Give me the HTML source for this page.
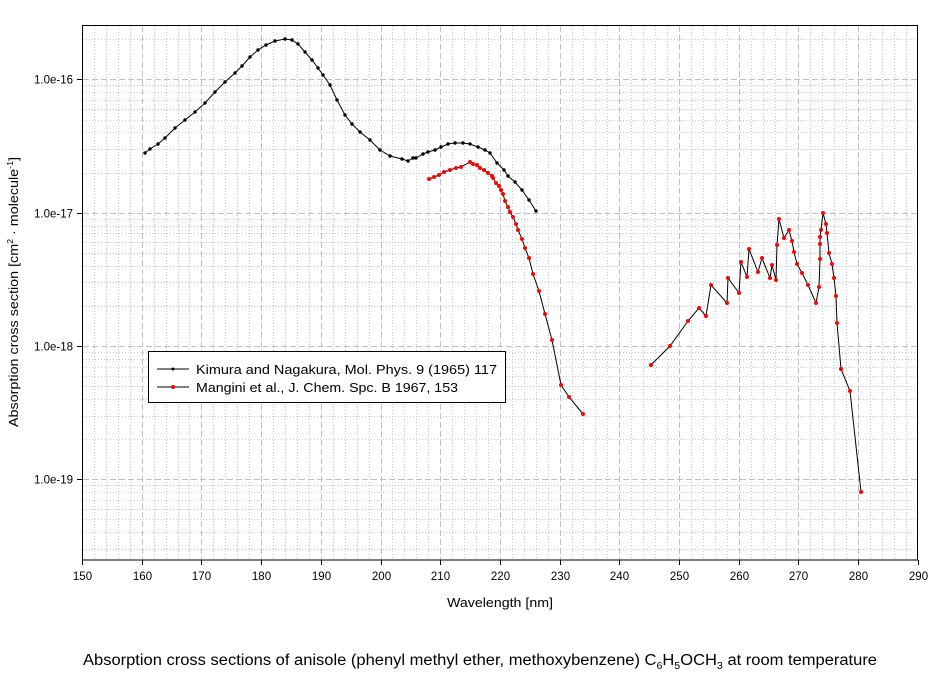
<!DOCTYPE html>
<html><head><meta charset="utf-8"><style>
body{margin:0;background:#fff;}
svg{display:block;font-family:"Liberation Sans",sans-serif;}
</style></head><body>
<svg id="s" width="942" height="676" xmlns="http://www.w3.org/2000/svg">
<rect width="942" height="676" fill="#fff"/>
<g id="grid"></g>
<rect x="82.5" y="25.5" width="835" height="534.5" fill="none" stroke="#000" stroke-width="1"/>
<g id="ticks" stroke="#000"></g>
<g id="labels" font-size="11.5" fill="#000"></g>
<polyline fill="none" stroke="#000" stroke-width="1" points="145,153 150,149 158,144 165,138 175,128 185,120 195,112 205,103 215,92 225,82 235,73 242,66 250,57 258,50 266,45 275,41 285,39 292,40 298,44 305,52 312,60 318,68 323,75 330,85 337,100 345,115 352,124 360,132 370,140 380,150 390,156 402,159 408,161 413,158 416,158 423,154 428,152 435,150 441,147 448,144 455,143 463,143 470,144 478,147 485,150 490,153 497,163 504,170 508,176 515,182 522,190 529,200 536,211"/>
<g id="bdots" fill="#000"></g>
<polyline id="r1" fill="none" stroke="#000" stroke-width="1" points="429,179 434,177 439,175 444,172 450,170 456,168 461,167 470,162 473,164 477,165 480,168 484,170 488,173 492,176 493,178 496,183 499,186 501,190 503,194 505,201 508,207 510,212 513,217 516,224 518,230 522,239 525,248 529,258 533,274 539,291 545,314 552,340 561,385 569,397 583,414"/>
<polyline id="r2" fill="none" stroke="#000" stroke-width="1" points="651,365 670,346 688,321 699,308 706,316 711,285 727,303 728,278 739,293 741,262 747,277 749,249 758,272 762,258 770,278 772,265 776,280 777,245 779,219 784,238 789,230 792,241 794,252 797,264 802,273 808,285 816,303 819,287 820,259 820,244 820,237 821,230 823,213 826,224 827,233 829,253 832,264 834,278 836,296 837,323 841,369 850,391 861,492"/>
<g id="rdots" fill="#f00"></g>
<rect x="148.5" y="351.5" width="357" height="51" fill="#fff" stroke="#000"/>
<line x1="157" y1="369" x2="189" y2="369" stroke="#000"/><circle cx="173" cy="369" r="1.5" fill="#000"/>
<line x1="157" y1="387" x2="189" y2="387" stroke="#000"/><circle cx="173" cy="387" r="2" fill="#f00"/>
<text x="196" y="374" font-size="13" textLength="301" lengthAdjust="spacingAndGlyphs">Kimura and Nagakura,  Mol. Phys. 9 (1965) 117</text>
<text x="196" y="392" font-size="13" textLength="262" lengthAdjust="spacingAndGlyphs">Mangini et al., J. Chem. Spc. B 1967, 153</text>
<text x="447" y="607" font-size="13" textLength="106" lengthAdjust="spacingAndGlyphs">Wavelength [nm]</text>
<text transform="translate(18,427) rotate(-90)" font-size="13" textLength="270" lengthAdjust="spacingAndGlyphs">Absorption cross section [cm<tspan font-size="8" dy="-5">2</tspan><tspan dy="5"> · molecule</tspan><tspan font-size="8" dy="-5">-1</tspan><tspan dy="5">]</tspan></text>
<text x="83" y="665" font-size="15.5" textLength="794" lengthAdjust="spacingAndGlyphs">Absorption cross sections of anisole (phenyl methyl ether, methoxybenzene) C<tspan font-size="10" dy="4">6</tspan><tspan dy="-4">H</tspan><tspan font-size="10" dy="4">5</tspan><tspan dy="-4">OCH</tspan><tspan font-size="10" dy="4">3</tspan><tspan dy="-4"> at room temperature</tspan></text>
</svg>
<script>
var NS="http://www.w3.org/2000/svg";
function el(p,t,a){var e=document.createElementNS(NS,t);for(var k in a)e.setAttribute(k,a[k]);p.appendChild(e);return e;}
var g=document.getElementById("grid"),tk=document.getElementById("ticks"),lb=document.getElementById("labels");
function X(n){return 82+(n-150)*5.97;}
function Y(l){return 346-(l+18)*133.3;}
for(var n=152;n<290;n+=2){if(n%10==0)continue;var x=Math.round(X(n))+.5;el(g,"line",{x1:x,x2:x,y1:26,y2:560,stroke:"#c8c8c8","stroke-dasharray":"1,2"});}
for(var d=-20;d<=-16;d++){for(var m=2;m<=9;m++){var y=Y(d+Math.log10(m));if(y<26||y>560)continue;y=Math.round(y)+.5;el(g,"line",{x1:83,x2:917,y1:y,y2:y,stroke:"#c8c8c8","stroke-dasharray":"1,2"});}}
for(var n=160;n<290;n+=10){var x=Math.round(X(n))+.5;el(g,"line",{x1:x,x2:x,y1:26,y2:560,stroke:"#c0c0c0","stroke-dasharray":"6,3"});}
for(var d=-19;d<=-16;d++){var y=Math.round(Y(d))+.5;el(g,"line",{x1:83,x2:917,y1:y,y2:y,stroke:"#c0c0c0","stroke-dasharray":"6,3"});
el(tk,"line",{x1:77,x2:83,y1:y,y2:y});var t=el(lb,"text",{x:73,y:y+4,"text-anchor":"end"});t.textContent="1.0e"+d;}
for(var n=150;n<=290;n+=10){var x=Math.round(X(n))+.5;el(tk,"line",{x1:x,x2:x,y1:560,y2:565});var t=el(lb,"text",{x:x,y:580,"text-anchor":"middle"});t.textContent=n;}
function dots(src,dst,r,c){var pts=document.querySelector(src).getAttribute("points").trim().split(/\s+/);var G=document.getElementById(dst);pts.forEach(function(p){var a=p.split(",");el(G,"circle",{cx:a[0],cy:a[1],r:r});});}
dots("polyline","bdots",1.7);dots("#r1","rdots",2);dots("#r2","rdots",2);
</script>
</body></html>
